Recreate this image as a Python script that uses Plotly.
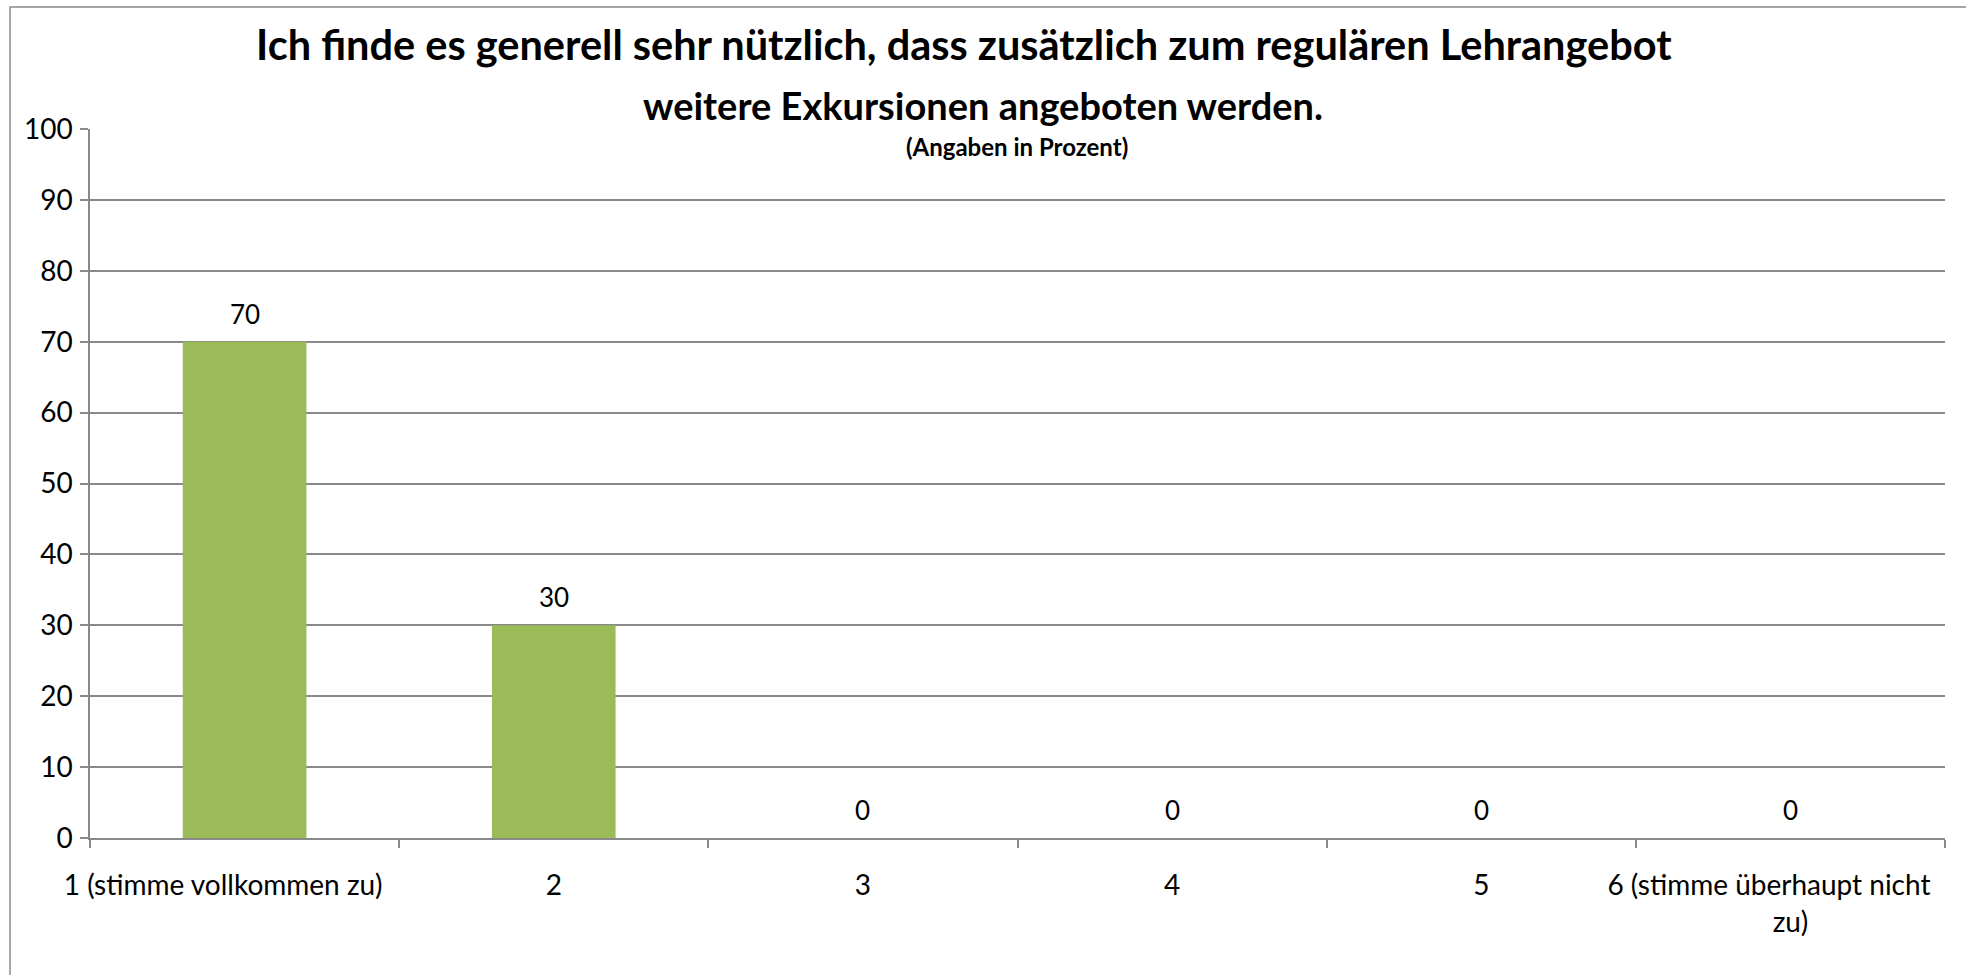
import plotly.graph_objects as go

NB = "\u00a0"
categories = ["1", "2", "3", "4", "5", "6"]
tick_labels = ["1 (stimme vollkommen zu)" + NB * 6, "2", "3", "4", "5",
               "6 (stimme überhaupt nicht" + NB * 6 + "<br>zu)"]
values = [70, 30, 0, 0, 0, 0]

title_line1 = "Ich finde es generell sehr nützlich, dass zusätzlich zum regulären Lehrangebot"
title_line2 = "weitere Exkursionen angeboten werden."
subtitle = "(Angaben in Prozent)"

W, H = 1966, 975
L, R, T, B = 90, 21, 129, 137
pw, ph = W - L - R, H - T - B

FONT = "Lato, 'Open Sans', sans-serif"
GRAY = "#898989"
GREEN = "#9BBB59"

fig = go.Figure()
fig.add_trace(go.Bar(
    x=categories, y=values, marker=dict(color=GREEN, line=dict(width=0)),
    width=0.40, hoverinfo="skip", showlegend=False,
))

annotations = []
for i, v in enumerate(values):
    # category axis: position by category index
    annotations.append(dict(
        x=i, y=v, xref="x", yref="y", text=str(v), showarrow=False,
        yanchor="bottom", yshift=10, font=dict(family=FONT, size=26, color="#000"),
    ))

def py(ypix):
    return (H - B - ypix) / ph

def px(xpix):
    return (xpix - L) / pw

annotations += [
    dict(x=px(964), y=py(44), xref="paper", yref="paper", text="<b>" + title_line1 + "</b>",
         showarrow=False, xanchor="center", yanchor="middle",
         font=dict(family=FONT, size=41.5, color="#000")),
    dict(x=px(983), y=py(105), xref="paper", yref="paper", text="<b>" + title_line2 + "</b>",
         showarrow=False, xanchor="center", yanchor="middle",
         font=dict(family=FONT, size=38, color="#000")),
    dict(x=px(1017), y=py(147), xref="paper", yref="paper", text="<b>" + subtitle + "</b>",
         showarrow=False, xanchor="center", yanchor="middle",
         font=dict(family=FONT, size=24, color="#000")),
]

fig.update_layout(
    width=W, height=H,
    margin=dict(l=L, r=R, t=T, b=B, pad=0, autoexpand=False),
    paper_bgcolor="white", plot_bgcolor="white",
    font=dict(family=FONT, size=28, color="#000"),
    annotations=annotations,
    shapes=[dict(type="rect", xref="paper", yref="paper",
                 x0=px(10), x1=px(1980), y0=py(990), y1=py(7),
                 line=dict(color=GRAY, width=1.5), fillcolor="rgba(0,0,0,0)", layer="below")],
)

fig.update_xaxes(
    type="category", tickmode="array", tickvals=categories, ticktext=tick_labels,
    showline=True, linecolor=GRAY, linewidth=1.5, automargin=False, tickangle=0,
    ticks="outside", tickson="boundaries", ticklen=8, tickcolor=GRAY, tickwidth=1.5,
    showgrid=False, ticklabelstandoff=22,
    tickfont=dict(family=FONT, size=28, color="#000"),
)
fig.update_yaxes(
    range=[0, 100], tickmode="linear", tick0=0, dtick=10, automargin=False,
    showline=True, linecolor=GRAY, linewidth=1.5,
    ticks="outside", ticklen=8, tickcolor=GRAY, tickwidth=1.5,
    showgrid=True, gridcolor=GRAY, gridwidth=1.5, zeroline=False,
    ticklabelstandoff=2,
    tickfont=dict(family=FONT, size=28, color="#000"),
)

fig.write_html("out.html", config={"displayModeBar": False},
               post_script="document.body.style.margin='0';document.body.style.overflow='hidden';")
